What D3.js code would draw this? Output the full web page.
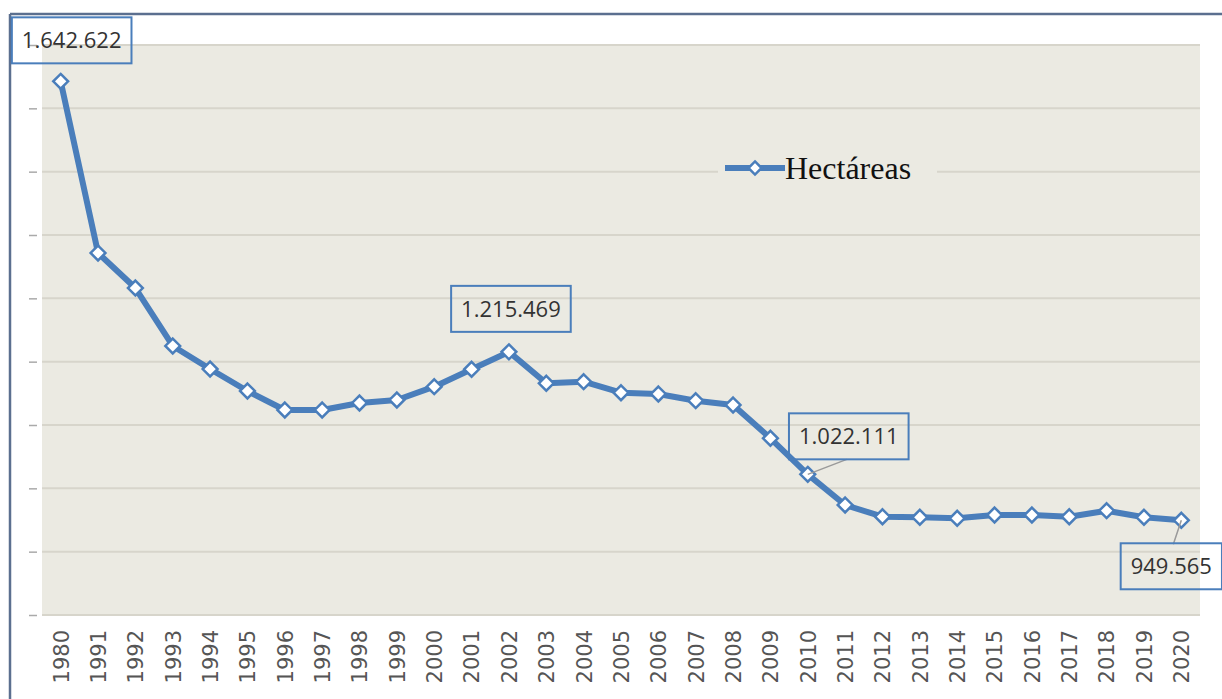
<!DOCTYPE html>
<html>
<head>
<meta charset="utf-8">
<script src="https://cdn.jsdelivr.net/npm/d3@7"></script>
<style>
  html, body { margin: 0; padding: 0; background: #ffffff; }
  svg { display: block; }
</style>
</head>
<body>
<svg id="chart" width="1222" height="699"></svg>
<script>
// ---------- data ----------
const years = ["1980","1991","1992","1993","1994","1995","1996","1997","1998","1999","2000",
  "2001","2002","2003","2004","2005","2006","2007","2008","2009","2010",
  "2011","2012","2013","2014","2015","2016","2017","2018","2019","2020"];
const hectareas = [1642622, 1371600, 1316300, 1224800, 1188400, 1153700, 1123700, 1123700, 1134800, 1139500, 1160500,
  1188000, 1215469, 1165900, 1168400, 1151000, 1149000, 1138400, 1131600, 1079000, 1022111,
  973700, 955200, 954300, 952700, 957900, 957900, 955200, 964700, 954300, 949565];
const yTickValues = [800000, 900000, 1000000, 1100000, 1200000, 1300000, 1400000, 1500000, 1600000, 1700000];
const labeledYears = ["1980", "2002", "2010", "2020"];
const seriesName = "Hectáreas";

// ---------- layout ----------
const W = 1222, H = 699;
const plot = { left: 42, right: 1200, top: 45, bottom: 615 };
const blue = "#4a7ebb";
const plotBg = "#ebeae2";

const svg = d3.select("#chart");

const x = d3.scalePoint().domain(years).range([plot.left, plot.right]).padding(0.5);
const y = d3.scaleLinear().domain([800000, 1700000]).range([plot.bottom, plot.top]);

const fmt = d3.formatLocale({ decimal: ",", thousands: ".", grouping: [3], currency: ["", ""] }).format(",d");

// outer frame
svg.append("line").attr("x1", 10).attr("x2", W).attr("y1", 14).attr("y2", 14)
  .attr("stroke", "#5b6f8f").attr("stroke-width", 2.5);
svg.append("line").attr("x1", 10).attr("x2", 10).attr("y1", 14).attr("y2", H)
  .attr("stroke", "#5b6f8f").attr("stroke-width", 2.5);

// plot background
svg.append("rect").attr("x", plot.left).attr("y", plot.top)
  .attr("width", plot.right - plot.left).attr("height", plot.bottom - plot.top)
  .attr("fill", plotBg);

// gridlines
svg.append("g").selectAll("line").data(yTickValues).join("line")
  .attr("x1", plot.left).attr("x2", plot.right)
  .attr("y1", d => y(d)).attr("y2", d => y(d))
  .attr("stroke", "#d7d5cb").attr("stroke-width", 2);

// y axis: tiny tick marks only (labels unreadable in the source)
const yAxis = d3.axisLeft(y).tickValues(yTickValues).tickSize(8).tickFormat("");
const gy = svg.append("g").attr("transform", `translate(${plot.left - 5},0)`).call(yAxis);
gy.select(".domain").remove();
gy.selectAll(".tick line").attr("stroke", "#aaaaaa").attr("stroke-width", 1.5);

// x axis labels
const xAxis = d3.axisBottom(x).tickSize(0).tickPadding(0);
const gx = svg.append("g").attr("transform", `translate(0,${plot.bottom})`).call(xAxis);
gx.select(".domain").remove();
gx.selectAll(".tick text")
  .attr("transform", "rotate(-90)")
  .attr("x", -15).attr("y", 0).attr("dy", "0.35em")
  .attr("text-anchor", "end")
  .attr("font-family", "DejaVu Sans, Verdana, sans-serif")
  .attr("font-size", 21)
  .attr("fill", "#555555");

// legend
const lg = svg.append("g");
lg.append("rect").attr("x", 718).attr("y", 150).attr("width", 219).attr("height", 42).attr("fill", plotBg);
lg.append("line").attr("x1", 725).attr("x2", 785).attr("y1", 168).attr("y2", 168)
  .attr("stroke", blue).attr("stroke-width", 6);
lg.append("path").attr("d", d3.symbol(d3.symbolDiamond2, 110)())
  .attr("transform", "translate(755,168)")
  .attr("fill", "#ffffff").attr("stroke", blue).attr("stroke-width", 2.5);
lg.append("text").attr("x", 785).attr("y", 179)
  .attr("font-family", "Liberation Serif, Times New Roman, serif")
  .attr("font-size", 32).attr("fill", "#111111").text(seriesName);

// line
const data = years.map((yr, i) => ({ year: yr, value: hectareas[i] }));
svg.append("path").datum(data)
  .attr("d", d3.line().x(d => x(d.year)).y(d => y(d.value)))
  .attr("fill", "none").attr("stroke", blue).attr("stroke-width", 6)
  .attr("stroke-linejoin", "round");

// markers
svg.append("g").selectAll("path").data(data).join("path")
  .attr("d", d3.symbol(d3.symbolDiamond2, 140)())
  .attr("transform", d => `translate(${x(d.year)},${y(d.value)})`)
  .attr("fill", "#ffffff").attr("stroke", blue).attr("stroke-width", 2.5);

// data labels (box offsets relative to the point)
const labelOffsets = {
  "1980": { dx: 11, dy: -41, leader: false },
  "2002": { dx: 2, dy: -43, leader: false },
  "2010": { dx: 41, dy: -38, leader: [39, -15] },
  "2020": { dx: -10, dy: 46, leader: [-8, 24] }
};
const lbl = svg.append("g");
labeledYears.forEach(yr => {
  const d = data.find(e => e.year === yr);
  const px = x(d.year), py = y(d.value);
  const o = labelOffsets[yr];
  const cx = px + o.dx, cy = py + o.dy;
  if (o.leader) {
    lbl.append("line").attr("x1", px).attr("y1", py)
      .attr("x2", px + o.leader[0]).attr("y2", py + o.leader[1])
      .attr("stroke", "#9a9a9a").attr("stroke-width", 1.5);
  }
  const t = lbl.append("text").attr("x", cx).attr("y", cy).attr("dy", "0.36em")
    .attr("text-anchor", "middle")
    .attr("font-family", "Open Sans, sans-serif").attr("font-size", 22)
    .attr("fill", "#333333").text(fmt(d.value));
  const bb = t.node().getBBox();
  const bw = bb.width + 20, bh = 46;
  lbl.insert("rect", () => t.node())
    .attr("x", cx - bw / 2).attr("y", cy - bh / 2).attr("width", bw).attr("height", bh)
    .attr("fill", "none").attr("stroke", blue).attr("stroke-width", 2);
});
</script>
</body>
</html>
